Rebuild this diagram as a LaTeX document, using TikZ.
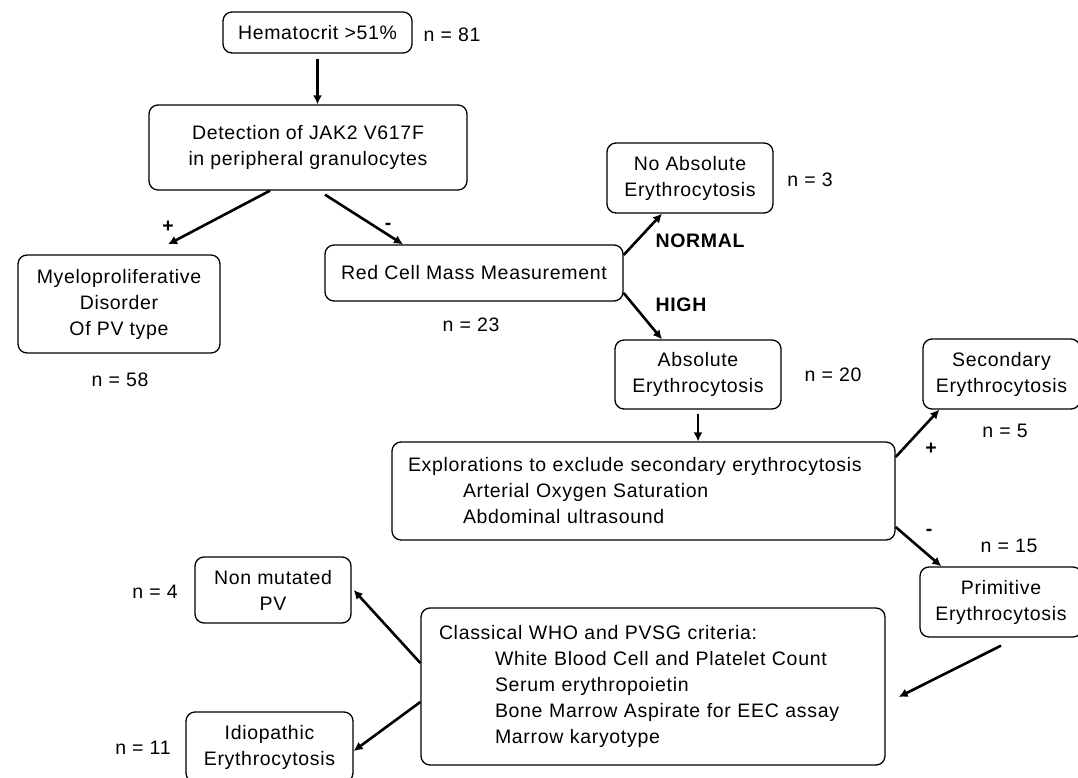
\documentclass[tikz,border=0pt]{standalone}
\usepackage{fontspec}
\setmainfont{Liberation Sans}[LetterSpace=3.5]
\usetikzlibrary{arrows.meta}
\begin{document}
\begin{tikzpicture}[x=1pt,y=-1pt,
  txt/.style={font=\fontsize{19.5}{26}\selectfont},
  box/.style={draw, line width=1.3pt, rounded corners=9pt, align=center, inner sep=0pt, txt},
  lbl/.style={inner sep=0pt, txt},
  blbl/.style={inner sep=0pt, font=\fontsize{19.5}{26}\selectfont\bfseries},
  arr/.style={line width=2.6pt, -{Latex[length=9pt,width=9pt]}}]
\useasboundingbox (0,0) rectangle (1078,778);

% boxes
\node[box, minimum width=189pt, minimum height=41pt] (hct) at (317.5,32.5) {Hematocrit >51\%};
\node[box, minimum width=318pt, minimum height=85pt] (det) at (308,147.5) {Detection of JAK2 V617F\\in peripheral granulocytes};
\node[box, minimum width=202pt, minimum height=98pt] (mpd) at (119,304) {Myeloproliferative\\Disorder\\Of PV type};
\node[box, minimum width=298pt, minimum height=56pt] (rcm) at (474,273) {Red Cell Mass Measurement};
\node[box, minimum width=166pt, minimum height=70pt] (noabs) at (690,178) {No Absolute\\Erythrocytosis};
\node[box, minimum width=166pt, minimum height=69pt] (abs) at (698,374.5) {Absolute\\Erythrocytosis};
\node[box, minimum width=157pt, minimum height=70pt] (sec) at (1001.5,374) {Secondary\\Erythrocytosis};
\node[box, minimum width=503pt, minimum height=98pt, text width=471pt, inner xsep=16pt, align=left] (expl) at (643.5,491)
  {Explorations to exclude secondary erythrocytosis\\
   \hspace*{55pt}Arterial Oxygen Saturation\\
   \hspace*{55pt}Abdominal ultrasound};
\node[box, minimum width=162pt, minimum height=70pt] (prim) at (1001,602) {Primitive\\Erythrocytosis};
\node[box, minimum width=464pt, minimum height=157pt, text width=428pt, inner xsep=18pt, align=left] (cls) at (653,686.5)
  {Classical WHO and PVSG criteria:\\
   \hspace*{56pt}White Blood Cell and Platelet Count\\
   \hspace*{56pt}Serum erythropoietin\\
   \hspace*{56pt}Bone Marrow Aspirate for EEC assay\\
   \hspace*{56pt}Marrow karyotype};
\node[box, minimum width=156pt, minimum height=66pt] (nonmut) at (273,590) {Non mutated\\PV};
\node[box, minimum width=167pt, minimum height=70pt] (idio) at (269.5,747) {Idiopathic\\Erythrocytosis};

% labels
\node[lbl] (n81) at (452,35) {n = 81};
\node[lbl] (n58) at (120,380) {n = 58};
\node[lbl] (n23) at (471,325) {n = 23};
\node[lbl] (n3) at (810,180) {n = 3};
\node[lbl] (n20) at (833,375) {n = 20};
\node[lbl] (n5) at (1005,431) {n = 5};
\node[lbl] (n15) at (1009,546) {n = 15};
\node[lbl] (n4) at (155,592) {n = 4};
\node[lbl] (n11) at (143,748) {n = 11};
\node[blbl] (normal) at (700,241) {NORMAL};
\node[blbl] (high) at (681,305) {HIGH};
\node[blbl] (plus1) at (168,227) {+};
\node[blbl] (minus1) at (388,226) {-};
\node[blbl] (plus2) at (931,449) {+};
\node[blbl] (minus2) at (929,532) {-};

% connectors
\draw[arr] ([yshift=-5pt]hct.south) -- (det.north -| hct.south);
\draw[arr] ([xshift=-38pt]det.south) -- ([xshift=49pt,yshift=10pt]mpd.north);
\draw[arr] ([xshift=17pt,yshift=-4pt]det.south) -- ([xshift=-71pt]rcm.north);
\draw[arr] ([yshift=18pt]rcm.east) -- ([xshift=-28pt]noabs.south);
\draw[arr] ([yshift=-20pt]rcm.east) -- ([xshift=-36pt]abs.north);
\draw[arr] ([yshift=-4pt]abs.south) -- (abs.south |- expl.north);
\draw[arr] ([yshift=34pt]expl.east) -- ([xshift=17pt]sec.south west);
\draw[arr] ([yshift=-36pt]expl.east) -- ([xshift=22pt]prim.north west);
\draw[arr] ([yshift=-8pt]prim.south) -- ([xshift=13pt,yshift=-10.5pt]cls.east);
\draw[arr] ([yshift=23.5pt]cls.west) -- ([xshift=2pt]nonmut.east);
\draw[arr] ([yshift=-15.5pt]cls.west) -- ([yshift=-4pt]idio.east);
\end{tikzpicture}
\end{document}
